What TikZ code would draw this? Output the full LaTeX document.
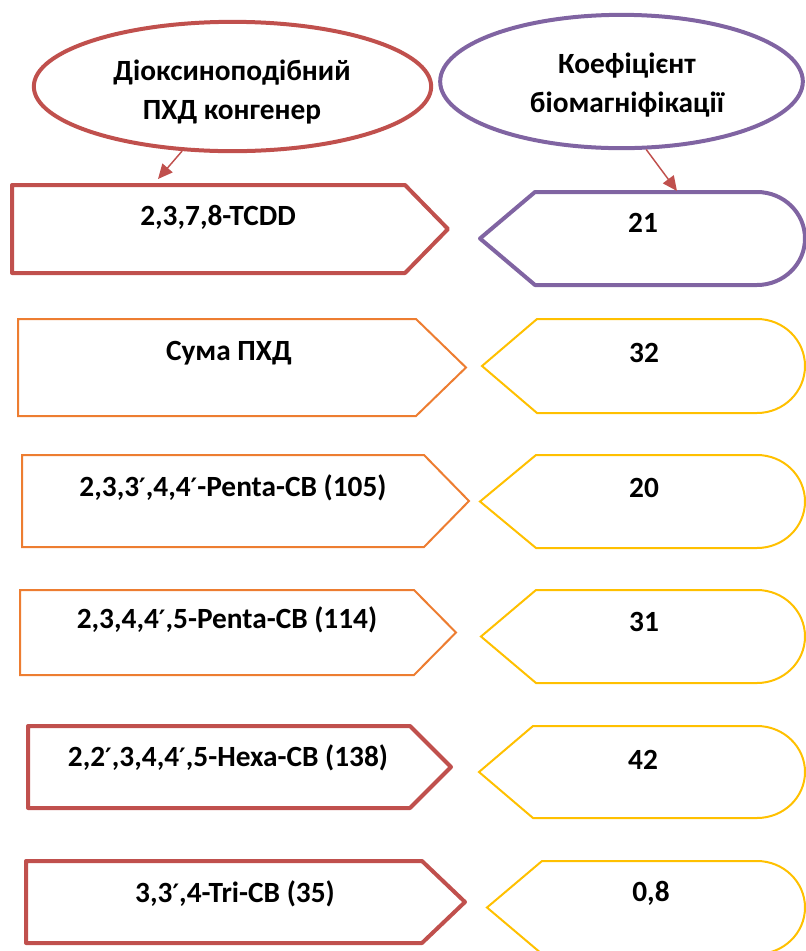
\documentclass[tikz,border=0pt]{standalone}
\usepackage{fontspec}
\setmainfont{Carlito}
\newfontfamily\primefont{DejaVu Sans}
\newcommand{\prm}{{\primefont\fontsize{19}{29}\selectfont ′}}
\usepackage{tikz}
\usetikzlibrary{shapes.geometric,arrows.meta}
\definecolor{boxRed}{HTML}{C0504D}
\definecolor{boxPurple}{HTML}{8064A2}
\definecolor{boxOrange}{HTML}{ED7D31}
\definecolor{boxYellow}{HTML}{FFC000}

\begin{document}
\begin{tikzpicture}[x=0.75pt,y=0.75pt,yscale=-1,xscale=1,
    lbl/.style={inner sep=0.75pt, font=\fontsize{22}{29}\selectfont\bfseries, align=center},
    hdr/.style={ellipse, draw, line width=3pt, inner sep=0pt},
    redbox/.style={draw=boxRed, line width=3pt, line join=round},
    orgbox/.style={draw=boxOrange, line width=1.5pt},
    purbox/.style={draw=boxPurple, line width=3pt, line join=round},
    yelbox/.style={draw=boxYellow, line width=1.5pt},
    link/.style={draw=boxRed, line width=1.1pt, -{Triangle[length=11pt,width=10pt]}}]
    \useasboundingbox (0,0) rectangle (806,951);

    %Shape: Ellipse [id:hdrA]
    \node [hdr, draw=boxRed, minimum width=298pt, minimum height=97pt] (hdrA) at (232.5,86.5) {};
    %Shape: Ellipse [id:hdrB]
    \node [hdr, draw=boxPurple, minimum width=272pt, minimum height=100pt] (hdrB) at (621.5,81.5) {};

    %Shape: Pentagon [id:congener rows]
    \draw [redbox] (12,185) -- (405,185) -- (448,229) -- (405,273) -- (12,273) -- cycle ;
    \draw [orgbox] (18,319) -- (416,319) -- (466,367.5) -- (416,416) -- (18,416) -- cycle ;
    \draw [orgbox] (22,455) -- (424,455) -- (469,501) -- (424,547) -- (22,547) -- cycle ;
    \draw [orgbox] (20,590) -- (414,590) -- (456,632.5) -- (414,675) -- (20,675) -- cycle ;
    \draw [redbox] (28,726) -- (410,726) -- (451,767) -- (410,808) -- (28,808) -- cycle ;
    \draw [redbox] (26,861) -- (422,861) -- (465,902) -- (422,943) -- (26,943) -- cycle ;

    %Shape: Display [id:factor rows]
    \draw [purbox] (480,238.5) -- (535,192) -- (757,192) arc [start angle=-90, end angle=90, x radius=48, y radius=46.5] -- (535,285) -- cycle ;
    \draw [yelbox] (482,366) -- (537,319) -- (757,319) arc [start angle=-90, end angle=90, x radius=48, y radius=47] -- (537,413) -- cycle ;
    \draw [yelbox] (480,501.5) -- (536,455) -- (757,455) arc [start angle=-90, end angle=90, x radius=48, y radius=46.5] -- (536,548) -- cycle ;
    \draw [yelbox] (481,636.5) -- (536,590) -- (757,590) arc [start angle=-90, end angle=90, x radius=48, y radius=46.5] -- (536,683) -- cycle ;
    \draw [yelbox] (479,772) -- (533,726) -- (757,726) arc [start angle=-90, end angle=90, x radius=48, y radius=46] -- (533,818) -- cycle ;
    \draw [yelbox] (487,907.5) -- (542,861) -- (757,861) arc [start angle=-90, end angle=90, x radius=48, y radius=46.5] -- (542,954) -- cycle ;

    %Straight Lines [id:arrows]
    \coordinate (tipA) at (158,179);
    \coordinate (tipB) at (677,191);
    \draw [link] (hdrA.232) -- (tipA) ;
    \draw [link] (hdrB.290) -- (tipB) ;

    % Text Node
    \node [lbl] (hdrAtxt) at (232,92) {Діоксиноподібний\\ПХД конгенер};
    % Text Node
    \node [lbl] (hdrBtxt) at (627,85) {Коефіцієнт\\біомагніфікації};
    % Text Node
    \node [lbl] (cgA) at (218,217) {2,3,7,8-TCDD};
    \node [lbl] (cgB) at (229,353) {Сума ПХД};
    \node [lbl] (cgC) at (233,488) {2,3,3\prm,4,4\prm-Penta-CB (105)};
    \node [lbl] (cgD) at (227,620) {2,3,4,4\prm,5-Penta-CB (114)};
    \node [lbl] (cgE) at (228,758) {2,2\prm,3,4,4\prm,5-Hexa-CB (138)};
    \node [lbl] (cgF) at (235,894) {3,3\prm,4-Tri-CB (35)};
    % Text Node
    \node [lbl] (bmA) at (643,223) {21};
    \node [lbl] (bmB) at (644,353) {32};
    \node [lbl] (bmC) at (644,488) {20};
    \node [lbl] (bmD) at (644,622) {31};
    \node [lbl] (bmE) at (643,760) {42};
    \node [lbl] (bmF) at (651,893) {0,8};

\end{tikzpicture}
\end{document}
